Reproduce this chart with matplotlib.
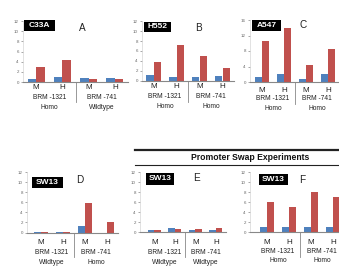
import matplotlib
matplotlib.use("Agg")
import matplotlib.pyplot as plt
from matplotlib.patches import Rectangle
from matplotlib.lines import Line2D

plt.rcParams['font.family'] = ['Liberation Sans', 'DejaVu Sans']

W, H = 339, 268
BLUE = '#4F81BD'
RED = '#C0504D'

groups = ['M', 'H', 'M', 'H']
promoters = ['BRM -1321', 'BRM -741']

cell_lines = ['C33A', 'H552', 'A547', 'SW13', 'SW13', 'SW13']
panel_letters = ['A', 'B', 'C', 'D', 'E', 'F']
genotypes = [
    ['Homo', 'Wildtype'],
    ['Homo', 'Homo'],
    ['Homo', 'Homo'],
    ['Wildtype', 'Homo'],
    ['Wildtype', 'Wildtype'],
    ['Homo', 'Homo'],
]
blue_vals = [
    [0.5, 1.0, 0.87, 0.8],
    [1.3, 0.9, 0.8, 1.1],
    [1.4, 2.0, 0.7, 2.1],
    [0.05, 0.05, 1.3, 0.0],
    [0.4, 0.9, 0.35, 0.5],
    [1.0, 1.0, 1.0, 1.0],
]
red_vals = [
    [3.0, 4.4, 0.55, 0.65],
    [3.8, 7.2, 5.1, 2.6],
    [10.7, 13.9, 4.4, 8.5],
    [0.1, 0.1, 5.8, 2.0],
    [0.5, 0.6, 0.6, 0.9],
    [6.0, 5.0, 8.0, 7.0],
]
ymax = [12, 12, 16, 12, 12, 12]
ystep = [2, 2, 4, 2, 2, 2]

# layout in pixels: (x0, x1, ytop, ybot, xlim_left, xlim_right)
layout = [
    (23, 128, 21, 82, -0.5, 3.5),
    (142, 234, 21, 81, -0.5, 3.5),
    (250, 339, 20, 82, -0.55, 3.5),
    (27, 118, 172, 232.5, -0.64, 3.5),
    (140, 226, 172, 232, -0.7, 3.5),
    (250, 339.5, 172, 232, -0.77, 3.3),
]
label_offsets = [
    (5.5, 15.5, 25.5),
    (5.7, 15.7, 25.7),
    (8, 17, 27),
    (9.5, 19.5, 29.5),
    (10, 20, 30),
    (11, 19.5, 29),
]
boxes = [
    (24, 55, 20, 31),
    (144, 171, 22, 32),
    (252, 281, 20, 31),
    (32, 63, 177, 188),
    (146, 174, 173, 185),
    (259, 288, 174, 185),
]
letter_pos = [(82, 28), (198, 28), (303, 25), (80, 180), (196, 178), (302, 180)]

fig = plt.figure(figsize=(W / 100, H / 100), dpi=100)

def pt(px):
    return px * 72 / 100

bw = 0.32
for i in range(6):
    x0, x1, yt, yb, xl, xr = layout[i]
    ax = fig.add_axes([x0 / W, 1 - yb / H, (x1 - x0) / W, (yb - yt) / H])
    xs = list(range(len(groups)))
    ax.bar([x - bw / 2 for x in xs], blue_vals[i], width=bw, color=BLUE, linewidth=0)
    ax.bar([x + bw / 2 for x in xs], red_vals[i], width=bw, color=RED, linewidth=0)
    ax.set_xlim(xl, xr)
    ax.set_ylim(0, ymax[i])
    ax.set_yticks(list(range(0, ymax[i] + 1, ystep[i])))
    ax.tick_params(axis='y', labelsize=3.2, length=1.5, width=0.4, colors='#666666', pad=1.5)
    ax.set_xticks([])
    for s in ['top', 'right']:
        ax.spines[s].set_visible(False)
    ax.spines['left'].set_color('#cccccc')
    ax.spines['left'].set_linewidth(0.4)
    ax.spines['bottom'].set_color('#888888')
    ax.spines['bottom'].set_linewidth(0.8)
    ax.patch.set_alpha(0)
    o1, o2, o3 = label_offsets[i]
    for x, g in zip(xs, groups):
        ax.annotate(g, xy=(x, 0), xycoords=('data', 'axes fraction'),
                    xytext=(0, -pt(o1)), textcoords='offset points',
                    ha='center', va='center', fontsize=5.8, color='#222222')
    for k, (pr, gt) in enumerate(zip(promoters, genotypes[i])):
        xc = 0.5 + 2 * k
        ax.annotate(pr, xy=(xc, 0), xycoords=('data', 'axes fraction'),
                    xytext=(0, -pt(o2)), textcoords='offset points',
                    ha='center', va='center', fontsize=4.8, color='#222222')
        ax.annotate(gt, xy=(xc, 0), xycoords=('data', 'axes fraction'),
                    xytext=(0, -pt(o3)), textcoords='offset points',
                    ha='center', va='center', fontsize=4.8, color='#222222')
    # separator line between promoter groups
    sep_len = (o2 + 5) / (yb - yt)
    ax.plot([1.5, 1.5], [0, -sep_len], transform=ax.get_xaxis_transform(),
            color='#888888', lw=0.6, clip_on=False)

    # black cell-line box
    bx0, bx1, by0, by1 = boxes[i]
    fig.add_artist(Rectangle((bx0 / W, 1 - by1 / H), (bx1 - bx0) / W, (by1 - by0) / H,
                             transform=fig.transFigure, facecolor='black', edgecolor='none'))
    fig.text((bx0 + bx1) / 2 / W, 1 - (by0 + by1) / 2 / H, cell_lines[i], color='white',
             fontsize=6, fontweight='bold', ha='center', va='center')
    lx, ly = letter_pos[i]
    fig.text(lx / W, 1 - ly / H, panel_letters[i], fontsize=7.2, color='#222222',
             ha='center', va='center')

# Promoter swap header
fig.add_artist(Line2D([135 / W, 1], [1 - 150 / H, 1 - 150 / H], transform=fig.transFigure,
                      color='#222222', lw=1.6))
fig.add_artist(Line2D([135 / W, 1], [1 - 165 / H, 1 - 165 / H], transform=fig.transFigure,
                      color='#222222', lw=0.8))
fig.text(250 / W, 1 - 157.5 / H, 'Promoter Swap Experiments', fontsize=6.2,
         fontweight='bold', ha='center', va='center', color='#111111')

fig.savefig('out.png', dpi=100)
